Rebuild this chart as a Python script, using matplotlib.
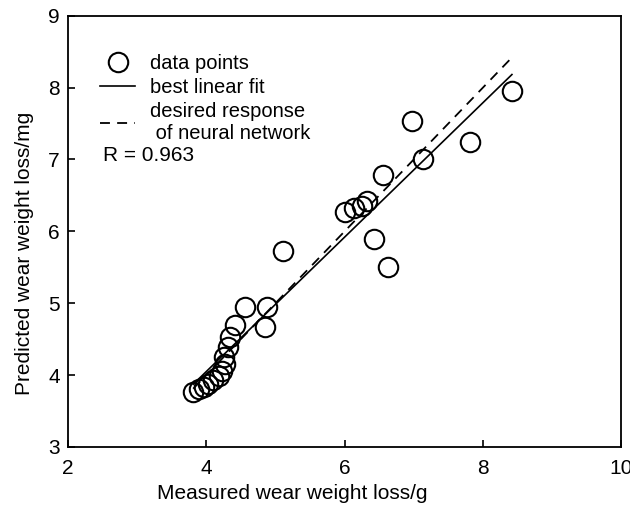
import numpy as np
import matplotlib.pyplot as plt

plt.rcParams['font.family'] = ['Liberation Sans', 'DejaVu Sans']

# measured vs predicted wear weight loss
measured = np.array([3.81, 3.89, 3.96, 4.03, 4.10, 4.18, 4.22, 4.27, 4.25, 4.32, 4.34,
                     4.42, 4.56, 4.85, 4.88, 5.11, 6.01, 6.13, 6.25, 6.32, 6.42,
                     6.56, 6.63, 6.98, 7.14, 7.82, 8.42])
predicted = np.array([3.77, 3.81, 3.84, 3.88, 3.93, 3.98, 4.05, 4.16, 4.25, 4.39, 4.53,
                      4.70, 4.95, 4.67, 4.95, 5.73, 6.27, 6.32, 6.35, 6.42, 5.90,
                      6.78, 5.51, 7.53, 7.00, 7.25, 7.95])
r_value = 0.963

slope, icpt = np.polyfit(measured, predicted, 1)
xfit = np.array([measured.min(), measured.max()])

fig = plt.figure(figsize=(6.3, 5.09), dpi=100)
ax = fig.add_axes([0.108, 0.122, 0.878, 0.847])

ax.plot(measured, predicted, 'o', mfc='none', mec='black', ms=14, mew=1.5,
        label='data points')
ax.plot(xfit, slope * xfit + icpt, '-', color='black', lw=1.2, label='best linear fit')
ax.plot(xfit, xfit, '--', color='black', lw=1.3, dashes=(5.5, 4),
        label='desired response\n of neural network')

ax.set_xlim(2, 10)
ax.set_ylim(3, 9)
ax.set_xticks([2, 4, 6, 8, 10])
ax.set_yticks([3, 4, 5, 6, 7, 8, 9])
ax.tick_params(direction='in', length=5, width=1.2, labelsize=15)
ax.tick_params(axis='x', pad=9)
ax.tick_params(axis='y', pad=6)
for s in ax.spines.values():
    s.set_linewidth(1.3)

ax.set_xlabel('Measured wear weight loss/g', fontsize=15)
ax.xaxis.set_label_coords(0.405, -0.085)
ax.set_ylabel('Predicted wear weight loss/mg', fontsize=15)
ax.yaxis.set_label_coords(-0.062, 0.45)

ax.legend(loc='upper left', bbox_to_anchor=(0.043, 0.93), frameon=False,
          fontsize=14.5, handlelength=1.75, handletextpad=0.75, labelspacing=0.25,
          borderaxespad=0)
ax.text(0.063, 0.662, 'R = %.3f' % r_value, transform=ax.transAxes, fontsize=15)

fig.savefig('out.png', dpi=100)
